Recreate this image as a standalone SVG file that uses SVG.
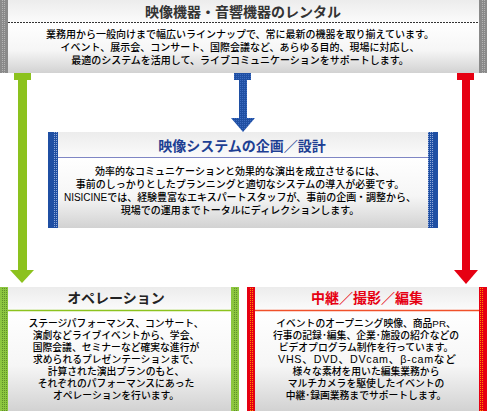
<svg xmlns="http://www.w3.org/2000/svg" width="487" height="413" viewBox="0 0 487 413">
<defs>
<style>
.t{font-family:"Noto Sans CJK JP","Noto Sans",sans-serif;font-weight:bold;font-size:14px;text-anchor:middle}
.b{font-family:"Liberation Sans","Noto Sans CJK JP",sans-serif;font-weight:500;font-size:10px;fill:#000;text-anchor:middle}
.s{font-size:9.8px}
.l{font-size:10.7px}
</style>
<linearGradient id="hd" x1="0" y1="0" x2="0" y2="1"><stop offset="0" stop-color="#ececec"/><stop offset="1" stop-color="#fbfbfb"/></linearGradient>
<linearGradient id="bd" x1="0" y1="0" x2="0" y2="1"><stop offset="0" stop-color="#ffffff"/><stop offset="0.55" stop-color="#f6f6f6"/><stop offset="1" stop-color="#d2d2d2"/></linearGradient>
<pattern id="dg" width="2" height="2" patternUnits="userSpaceOnUse"><rect width="2" height="2" fill="#8a8a8a"/><rect width="1" height="1" fill="#b4b4b4"/></pattern>
<pattern id="db" width="2" height="2" patternUnits="userSpaceOnUse"><rect width="2" height="2" fill="#1f4fa3"/><rect width="1" height="1" fill="#8fa8d8"/></pattern>
<pattern id="da" width="2" height="2" patternUnits="userSpaceOnUse"><rect width="2" height="2" fill="#1f4fa3"/><rect width="1" height="1" fill="#3d6cc0"/></pattern>
<pattern id="dn" width="2" height="2" patternUnits="userSpaceOnUse"><rect width="2" height="2" fill="#8cc63f"/><rect width="1" height="1" fill="#5f8f2a"/></pattern>
<pattern id="dr" width="2" height="2" patternUnits="userSpaceOnUse"><rect width="2" height="2" fill="#e60012"/><rect width="1" height="1" fill="#ff8a00"/></pattern>
</defs>
<rect width="487" height="413" fill="#ffffff"/>

<g id="connectors">
<g id="arrow-green" fill="#8cc21e">
<rect x="14" y="73" width="17" height="7"/>
<rect x="18" y="80" width="9" height="191"/>
<polygon points="10,270 34,270 22,283"/>
</g>
<g id="arrow-blue" fill="url(#da)">
<rect x="234" y="73" width="17" height="7"/>
<rect x="239" y="80" width="8" height="39"/>
<polygon points="231,118 255,118 243,132"/>
</g>
<g id="arrow-red" fill="#e60012">
<rect x="457" y="73" width="17" height="7"/>
<rect x="462" y="80" width="8" height="191"/>
<polygon points="454,270 478,270 466,284"/>
</g>
</g>

<g id="node-rental">
<rect x="0" y="0" width="487" height="22" fill="url(#hd)"/>
<rect x="0" y="22" width="487" height="51" fill="url(#bd)"/>
<rect x="0" y="0" width="8" height="73" fill="#8a8a8a"/>
<rect x="2" y="0" width="4" height="73" fill="url(#dg)"/>
<rect x="479" y="0" width="8" height="73" fill="#8a8a8a"/>
<rect x="481" y="0" width="4" height="73" fill="url(#dg)"/>
<line x1="8" y1="22.5" x2="479" y2="22.5" stroke="#333" stroke-dasharray="2,1"/>
<text class="t" x="243" y="17" fill="#333">映像機器・音響機器のレンタル</text>
<text class="b" x="240" y="38"><tspan x="240">業務用から一般向けまで幅広いラインナップで、常に最新の機器を取り揃えています。</tspan><tspan x="240" dy="13">イベント、展示会、コンサート、国際会議など、あらゆる目的、現場に対応し、</tspan><tspan x="240" dy="13">最適のシステムを活用して、ライブコミュニケーションをサポートします。</tspan></text>
</g>

<g id="node-planning">
<rect x="48" y="132" width="390" height="25" fill="url(#hd)"/>
<rect x="48" y="157" width="390" height="71" fill="url(#bd)"/>
<rect x="48" y="132" width="10" height="96" fill="#1f4fa3"/>
<rect x="53" y="132" width="5" height="96" fill="url(#db)"/>
<rect x="428" y="132" width="10" height="96" fill="#1f4fa3"/>
<rect x="428" y="132" width="5" height="96" fill="url(#db)"/>
<line x1="58" y1="157.5" x2="428" y2="157.5" stroke="#7f86c4" stroke-width="1.2"/>
<text class="t" x="242" y="151" fill="#1e3f93">映像システムの企画／設計</text>
<text class="b" x="240" y="175"><tspan x="240">効率的なコミュニケーションと効果的な演出を成立させるには、</tspan><tspan x="240" dy="13">事前のしっかりとしたプランニングと適切なシステムの導入が必要です。</tspan><tspan x="240" dy="13" textLength="352" lengthAdjust="spacing">NISICINEでは、経験豊富なエキスパートスタッフが、事前の企画・調整から、</tspan><tspan x="240" dy="13">現場での運用までトータルにディレクションします。</tspan></text>
</g>

<g id="node-operation">
<rect x="0" y="287" width="239" height="23" fill="url(#hd)"/>
<rect x="0" y="310" width="239" height="101" fill="url(#bd)"/>
<rect x="0" y="287" width="8" height="124" fill="#8cc63f"/>
<rect x="2" y="287" width="5" height="124" fill="url(#dn)"/>
<rect x="231" y="287" width="8" height="124" fill="#8cc63f"/>
<rect x="233" y="287" width="5" height="124" fill="url(#dn)"/>
<line x1="8" y1="310.5" x2="231" y2="310.5" stroke="#8cc21e" stroke-width="1.5"/>
<text class="t" x="116" y="303" fill="#222">オペレーション</text>
<text class="b s" x="116" y="327"><tspan x="116">ステージパフォーマンス、コンサート、</tspan><tspan x="116" dy="12">演劇などライブイベントから、学会、</tspan><tspan x="116" dy="12">国際会議、セミナーなど確実な進行が</tspan><tspan x="116" dy="12">求められるプレゼンテーションまで、</tspan><tspan x="116" dy="12">計算された演出プランのもと、</tspan><tspan x="116" dy="12">それぞれのパフォーマンスにあった</tspan><tspan x="116" dy="12">オペレーションを行います。</tspan></text>
</g>

<g id="node-broadcast">
<rect x="247" y="287" width="240" height="23" fill="url(#hd)"/>
<rect x="247" y="310" width="240" height="101" fill="url(#bd)"/>
<rect x="247" y="287" width="8" height="124" fill="#e60012"/>
<rect x="249" y="287" width="4" height="124" fill="url(#dr)"/>
<rect x="479" y="287" width="8" height="124" fill="#e60012"/>
<rect x="480" y="287" width="4" height="124" fill="url(#dr)"/>
<line x1="255" y1="310.5" x2="479" y2="310.5" stroke="#f0502a" stroke-width="1.5"/>
<text class="t" x="367" y="303" fill="#e60012">中継／撮影／編集</text>
<text class="b s" x="366" y="327"><tspan x="366">イベントのオープニング映像、商品PR、</tspan><tspan x="366" dy="12">行事の記録･編集、企業･施設の紹介などの</tspan><tspan x="366" dy="12">ビデオプログラム制作を行っています。</tspan><tspan x="367" dy="12" class="l" textLength="178" lengthAdjust="spacing">VHS、DVD、DVcam、β-camなど</tspan><tspan x="366" dy="12">様々な素材を用いた編集業務から</tspan><tspan x="366" dy="12">マルチカメラを駆使したイベントの</tspan><tspan x="366" dy="12">中継･録画業務までサポートします。</tspan></text>
</g>
</svg>
